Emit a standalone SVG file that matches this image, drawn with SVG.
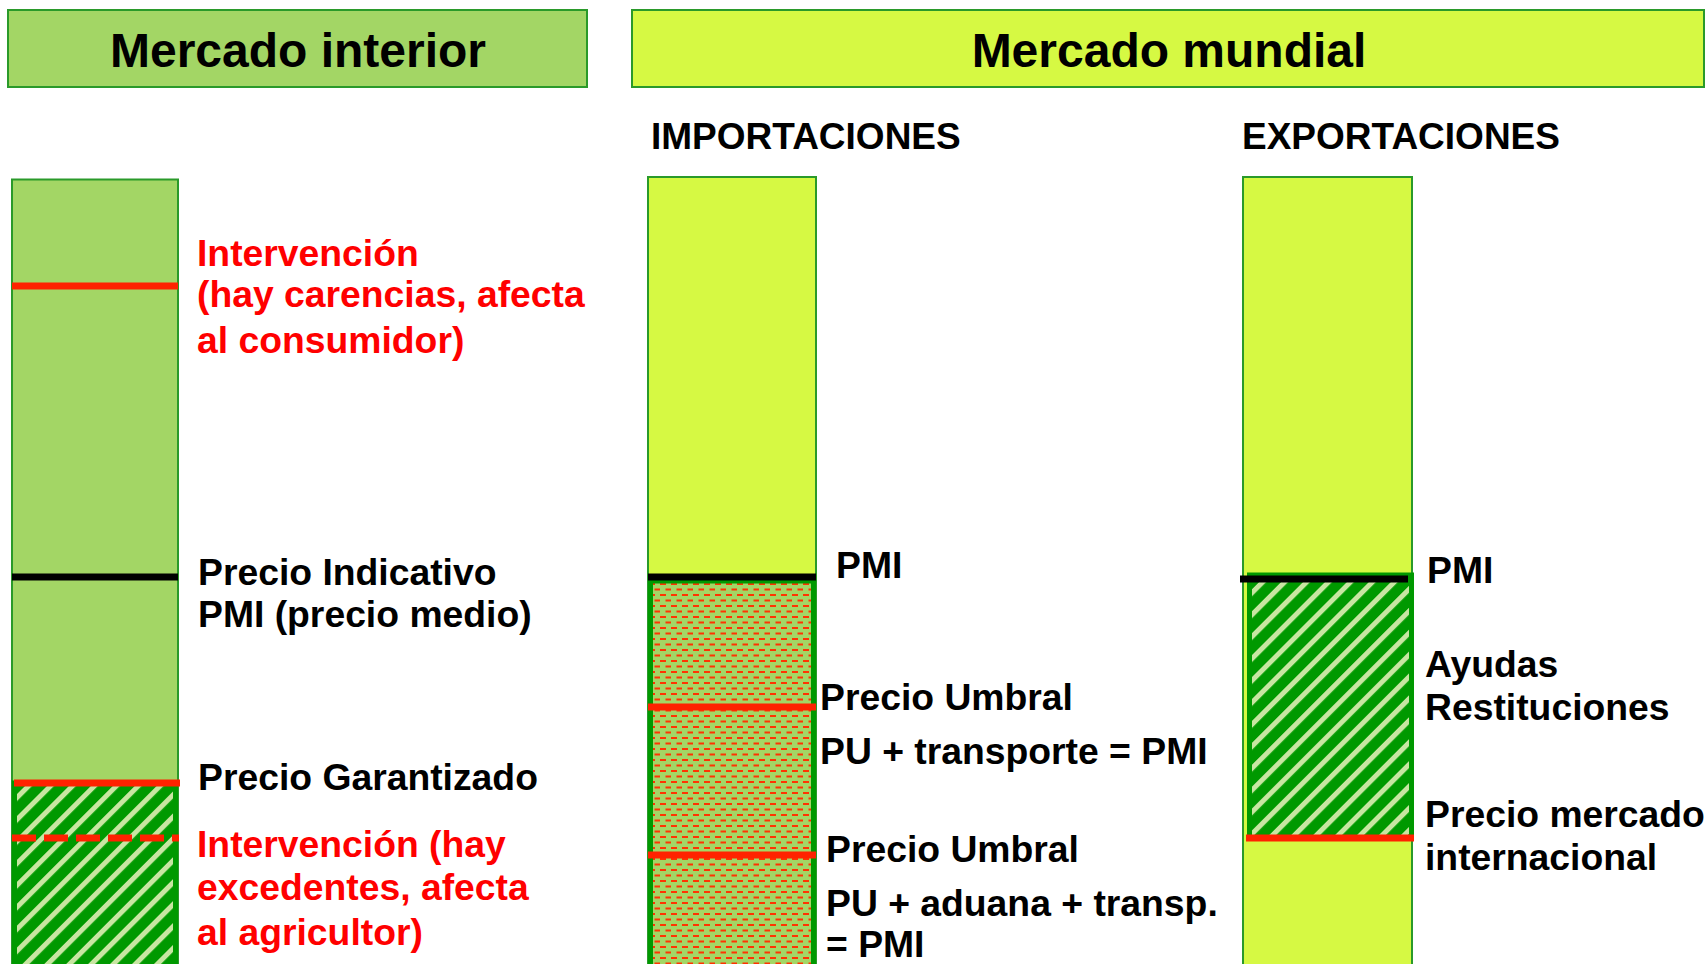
<svg xmlns="http://www.w3.org/2000/svg" width="1705" height="964" viewBox="0 0 1705 964">
<style>
text{font-family:"Liberation Sans",Arial,Helvetica,sans-serif;font-weight:bold;}
.t{font-size:37.3px;fill:#000;}
.r{font-size:37.3px;fill:#ff0000;}
.h{font-size:48px;fill:#000;text-anchor:middle;}
.s{font-size:37px;fill:#000;}
.lg{fill:#a3d665;stroke:#2a9a2a;stroke-width:2;}
.yl{fill:#d6f943;stroke:#2a9a2a;stroke-width:2;}
.hat{fill:url(#hatch);stroke:#009900;stroke-width:5;}
.dot{fill:url(#dots);stroke:#009900;stroke-width:5;}
.red{stroke:#ff2200;stroke-width:7;}
.blk{stroke:#000;stroke-width:7;}
</style>
<defs>
<pattern id="hatch" patternUnits="userSpaceOnUse" width="15.5" height="15.5" patternTransform="rotate(45)">
<rect x="0" y="0" width="15.5" height="15.5" fill="#009900"/>
<rect x="0" y="0" width="5" height="15.5" fill="#c8e6a2"/>
</pattern>
<pattern id="dots" patternUnits="userSpaceOnUse" width="11" height="11">
<rect x="0" y="0" width="11" height="11" fill="#a3d665"/>
<rect x="0" y="0" width="6" height="2" fill="#ff3300"/>
<rect x="5.5" y="5.5" width="6" height="2" fill="#ff3300"/>
</pattern>
</defs>
<rect width="1705" height="964" fill="#ffffff"/>

<g id="header-interior">
<rect class="lg" x="8" y="10" width="579" height="77"/>
<text class="h" x="298" y="67">Mercado interior</text>
</g>
<g id="header-mundial">
<rect class="yl" x="632" y="10" width="1072" height="77"/>
<text class="h" x="1169" y="67">Mercado mundial</text>
</g>

<g id="label-importaciones"><text class="s" x="651" y="149">IMPORTACIONES</text></g>
<g id="label-exportaciones"><text class="s" x="1242" y="149">EXPORTACIONES</text></g>

<g id="bar-interior">
<rect class="lg" x="12" y="179.5" width="166" height="800"/>
<rect class="hat" x="14.5" y="783" width="161" height="200"/>
<line class="red" x1="12" y1="286" x2="178" y2="286"/>
<line class="blk" x1="12" y1="577" x2="178" y2="577"/>
<line class="red" x1="14" y1="783" x2="180" y2="783"/>
<line class="red" x1="12" y1="838" x2="179" y2="838" stroke-dasharray="24 8"/>
<text class="r" x="197" y="266">Intervención</text>
<text class="r" x="197" y="307">(hay carencias, afecta</text>
<text class="r" x="197" y="353">al consumidor)</text>
<text class="t" x="198" y="585">Precio Indicativo</text>
<text class="t" x="198" y="627">PMI (precio medio)</text>
<text class="t" x="198" y="790">Precio Garantizado</text>
<text class="r" x="197" y="857">Intervención (hay</text>
<text class="r" x="197" y="900">excedentes, afecta</text>
<text class="r" x="197" y="945">al agricultor)</text>
</g>

<g id="bar-importaciones">
<rect class="yl" x="648" y="177" width="168" height="800"/>
<rect class="dot" x="650.5" y="581" width="163" height="400"/>
<line class="blk" x1="648" y1="577" x2="816" y2="577" stroke-width="8"/>
<line class="red" x1="648" y1="707" x2="816" y2="707"/>
<line class="red" x1="648" y1="855" x2="816" y2="855"/>
<text class="t" x="836" y="578">PMI</text>
<text class="t" x="820" y="710">Precio Umbral</text>
<text class="t" x="820" y="764">PU + transporte = PMI</text>
<text class="t" x="826" y="862">Precio Umbral</text>
<text class="t" x="826" y="916">PU + aduana + transp.</text>
<text class="t" x="826" y="957">= PMI</text>
</g>

<g id="bar-exportaciones">
<rect class="yl" x="1243" y="177" width="169" height="800"/>
<rect class="hat" x="1249.5" y="575" width="162" height="263"/>
<line class="blk" x1="1240" y1="579" x2="1408" y2="579" stroke-width="8"/>
<line class="red" x1="1246" y1="838" x2="1414" y2="838"/>
<text class="t" x="1427" y="583">PMI</text>
<text class="t" x="1425" y="677">Ayudas</text>
<text class="t" x="1425" y="720">Restituciones</text>
<text class="t" x="1425" y="827">Precio mercado</text>
<text class="t" x="1425" y="870">internacional</text>
</g>

<g id="connectors"></g>
</svg>
